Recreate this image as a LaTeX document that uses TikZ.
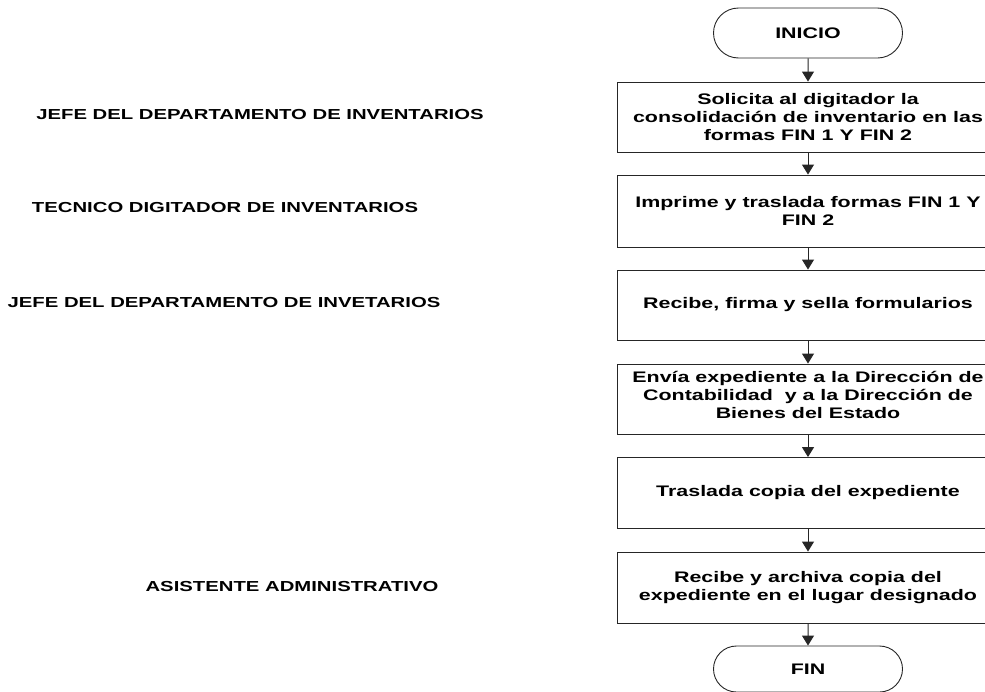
\documentclass[tikz,border=0pt]{standalone}
\usepackage{fontspec}
\setmainfont{Liberation Sans}[FakeStretch=1.4]
\usetikzlibrary{arrows.meta,shapes.misc}
\begin{document}
\begin{tikzpicture}[x=1pt,y=-1pt,
  every node/.style={font=\bfseries},
  proc/.style={draw=black!85,line width=0.9pt,rectangle,minimum width=382pt,
    minimum height=70pt,inner sep=0pt,align=center,
    font=\fontsize{15.3}{17.8}\bfseries},
  term/.style={draw=black!85,line width=0.9pt,rounded rectangle,minimum width=189pt,
    inner sep=0pt,font=\fontsize{15.3}{17.8}\bfseries},
  lane/.style={font=\fontsize{14.5}{16}\bfseries},
  flow/.style={draw=black!85,line width=1pt,-{Triangle[width=12pt,length=10pt]}}]
\clip (0,0) rectangle (985,691);
\fill[white] (0,0) rectangle (985,691);

\node[term,minimum height=50pt] (ini) at (808,33) {INICIO};
\node[proc] (b1) at (808,117) {Solicita al digitador la\\consolidación de inventario en las\\formas FIN 1 Y FIN 2};
\node[proc,minimum height=72pt] (b2) at (808,211) {Imprime y traslada formas FIN 1 Y\\FIN 2};
\node[proc] (b3) at (808,305) {Recibe, firma y sella formularios};
\node[proc] (b4) at (808,399) {Envía expediente a la Dirección de\\Contabilidad \ y a la Dirección de\\Bienes del Estado\\[-9pt]};
\node[proc,minimum height=71pt] (b5) at (808,493) {Traslada copia del expediente};
\node[proc,minimum height=71pt] (b6) at (808,587.5) {Recibe y archiva copia del\\expediente en el lugar designado};
\node[term,minimum height=46pt] (fin) at (808,669) {FIN};

\draw[flow] (ini) -- (b1);
\draw[flow] (b1) -- (b2);
\draw[flow] (b2) -- (b3);
\draw[flow] (b3) -- (b4);
\draw[flow] (b4) -- (b5);
\draw[flow] (b5) -- (b6);
\draw[flow] (b6) -- (fin);

\node[lane] (l1) at (260,115) {JEFE DEL DEPARTAMENTO DE INVENTARIOS};
\node[lane] (l2) at (225,208) {TECNICO DIGITADOR DE INVENTARIOS};
\node[lane] (l3) at (224,303) {JEFE DEL DEPARTAMENTO DE INVETARIOS};
\node[lane] (l4) at (292,586) {ASISTENTE ADMINISTRATIVO};
\end{tikzpicture}
\end{document}
